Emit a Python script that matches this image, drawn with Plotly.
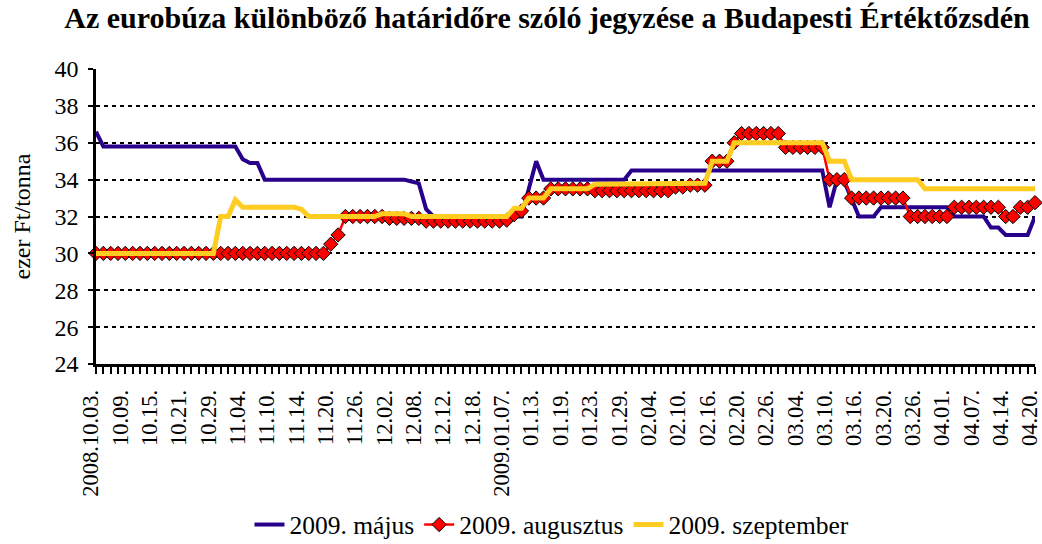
import plotly.graph_objects as go

# Trading days (categories)
dates = [
    "2008-10-03", "2008-10-06", "2008-10-07", "2008-10-08", "2008-10-09", "2008-10-10", "2008-10-13", "2008-10-14",
    "2008-10-15", "2008-10-16", "2008-10-17", "2008-10-20", "2008-10-21", "2008-10-22", "2008-10-27", "2008-10-28",
    "2008-10-29", "2008-10-30", "2008-10-31", "2008-11-03", "2008-11-04", "2008-11-05", "2008-11-06", "2008-11-07",
    "2008-11-10", "2008-11-11", "2008-11-12", "2008-11-13", "2008-11-14", "2008-11-17", "2008-11-18", "2008-11-19",
    "2008-11-20", "2008-11-21", "2008-11-24", "2008-11-25", "2008-11-26", "2008-11-27", "2008-11-28", "2008-12-01",
    "2008-12-02", "2008-12-03", "2008-12-04", "2008-12-05", "2008-12-08", "2008-12-09", "2008-12-10", "2008-12-11",
    "2008-12-12", "2008-12-15", "2008-12-16", "2008-12-17", "2008-12-18", "2008-12-19", "2008-12-22", "2008-12-23",
    "2009-01-07", "2009-01-08", "2009-01-09", "2009-01-12", "2009-01-13", "2009-01-14", "2009-01-15", "2009-01-16",
    "2009-01-19", "2009-01-20", "2009-01-21", "2009-01-22", "2009-01-23", "2009-01-26", "2009-01-27", "2009-01-28",
    "2009-01-29", "2009-01-30", "2009-02-02", "2009-02-03", "2009-02-04", "2009-02-05", "2009-02-06", "2009-02-09",
    "2009-02-10", "2009-02-11", "2009-02-12", "2009-02-13", "2009-02-16", "2009-02-17", "2009-02-18", "2009-02-19",
    "2009-02-20", "2009-02-23", "2009-02-24", "2009-02-25", "2009-02-26", "2009-02-27", "2009-03-02", "2009-03-03",
    "2009-03-04", "2009-03-05", "2009-03-06", "2009-03-09", "2009-03-10", "2009-03-11", "2009-03-12", "2009-03-13",
    "2009-03-16", "2009-03-17", "2009-03-18", "2009-03-19", "2009-03-20", "2009-03-23", "2009-03-24", "2009-03-25",
    "2009-03-26", "2009-03-27", "2009-03-30", "2009-03-31", "2009-04-01", "2009-04-02", "2009-04-03", "2009-04-06",
    "2009-04-07", "2009-04-08", "2009-04-09", "2009-04-10", "2009-04-14", "2009-04-15", "2009-04-16", "2009-04-17",
    "2009-04-20",
]

# Shown tick labels (every 4th trading day)
tick_labels = [
    "2008.10.03.", "10.09.", "10.15.", "10.21.", "10.29.", "11.04.", "11.10.", "11.14.", "11.20.", "11.26.",
    "12.02.", "12.08.", "12.12.", "12.18.", "2009.01.07.", "01.13.", "01.19.", "01.23.", "01.29.", "02.04.",
    "02.10.", "02.16.", "02.20.", "02.26.", "03.04.", "03.10.", "03.16.", "03.20.", "03.26.", "04.01.",
    "04.07.", "04.14.", "04.20.",
]

series_names = ["2009. május", "2009. augusztus", "2009. szeptember"]

may = ([36.6] + [35.8] * 19 + [35.1, 34.9, 34.9] + [34.0] * 20 + [33.9, 33.8, 32.4]
       + [32.0] * 13 + [33.5, 35.0] + [34.0] * 12 + [34.5] * 27
       + [32.5, 34.0, 33.9, 33.0] + [32.0] * 3 + [32.5] * 10 + [32.0] * 5
       + [31.4] * 2 + [31.0] * 4 + [32.0])

aug = ([30.0] * 32 + [30.5, 31.0] + [32.0] * 6 + [31.9] * 5 + [31.75] * 11
       + [31.8, 32.1, 32.3] + [33.0] * 3 + [33.5] * 6 + [33.4] * 11
       + [33.6] * 2 + [33.7] * 3 + [35.0] * 3 + [36.0] + [36.5] * 6 + [35.75] * 6
       + [34.0] * 3 + [33.0] * 8 + [32.0] * 6 + [32.5] * 7 + [32.0] * 2
       + [32.5] * 2 + [32.75])

sep = ([30.0] * 17 + [32.0] * 2 + [32.9] + [32.5] * 8 + [32.4] + [32.0] * 10 + [32.15] * 4
       + [32.0] * 14 + [32.45] * 2 + [33.0] * 3 + [33.5] * 6
       + [33.75] * 15 + [33.8] + [35.0] * 3 + [36.0] * 13 + [35.0] * 3
       + [34.0] * 10 + [33.5] * 16)

tick_text = []
for i, d in enumerate(dates):
    tick_text.append(tick_labels[i // 4] if i % 4 == 0 else "")

FONT = "Liberation Serif"
BLUE = "#28008C"
RED = "#FF0000"
YELLOW = "#FFCC22"

fig = go.Figure()
fig.add_trace(go.Scatter(x=dates, y=may, name=series_names[0], mode="lines",
                         line=dict(color=BLUE, width=4), cliponaxis=False))
fig.add_trace(go.Scatter(x=dates, y=aug, name=series_names[1], mode="lines+markers",
                         line=dict(color=RED, width=2.5),
                         marker=dict(symbol="diamond", size=11, color=RED,
                                     line=dict(color="black", width=1)),
                         cliponaxis=False))
fig.add_trace(go.Scatter(x=dates, y=sep, name=series_names[2], mode="lines",
                         line=dict(color=YELLOW, width=5), cliponaxis=False))

fig.update_layout(
    width=1042, height=544,
    margin=dict(l=96, r=7, t=69, b=180, pad=0, autoexpand=False),
    paper_bgcolor="white", plot_bgcolor="white",
    font=dict(family=FONT, color="black", size=20),
    title=dict(text="<b>Az eurobúza különböző határidőre szóló jegyzése a Budapesti Értéktőzsdén</b>",
               x=0.525, xref="container", xanchor="center",
               y=0.967, yref="container", yanchor="middle",
               font=dict(family=FONT, size=30, color="black")),
    showlegend=True,
    legend=dict(orientation="h", x=0.4856, xanchor="center",
                y=0.035, yref="container", yanchor="middle",
                font=dict(family=FONT, size=25.5, color="black"), itemwidth=30,
                bgcolor="rgba(0,0,0,0)"),
)

fig.update_xaxes(
    type="category", categoryorder="array", categoryarray=dates,
    range=[0, len(dates) - 1], automargin=False,
    tickmode="array", tickvals=dates, ticktext=tick_text,
    tickangle=-90, tickfont=dict(family=FONT, size=22.5, color="black"),
    ticks="outside", ticklen=7, tickwidth=2, tickcolor="black",
    showline=True, linecolor="black", linewidth=2.5,
    showgrid=False, zeroline=False, ticklabelstandoff=7, ticklabelshift=-5,
)
fig.update_yaxes(
    range=[24, 40], dtick=2, tick0=24, automargin=False,
    tickfont=dict(family=FONT, size=24, color="black"),
    ticks="outside", ticklen=5, tickwidth=2, tickcolor="black",
    showline=True, linecolor="black", linewidth=2.5,
    showgrid=True, gridcolor="black", gridwidth=2, griddash="4px,4px",
    zeroline=False, ticklabelstandoff=5,
    title=dict(text="ezer Ft/tonna", font=dict(family=FONT, size=24, color="black"), standoff=18),
)

fig.write_html("out.html", config={"displayModeBar": False},
               post_script="document.body.style.margin='0';")
